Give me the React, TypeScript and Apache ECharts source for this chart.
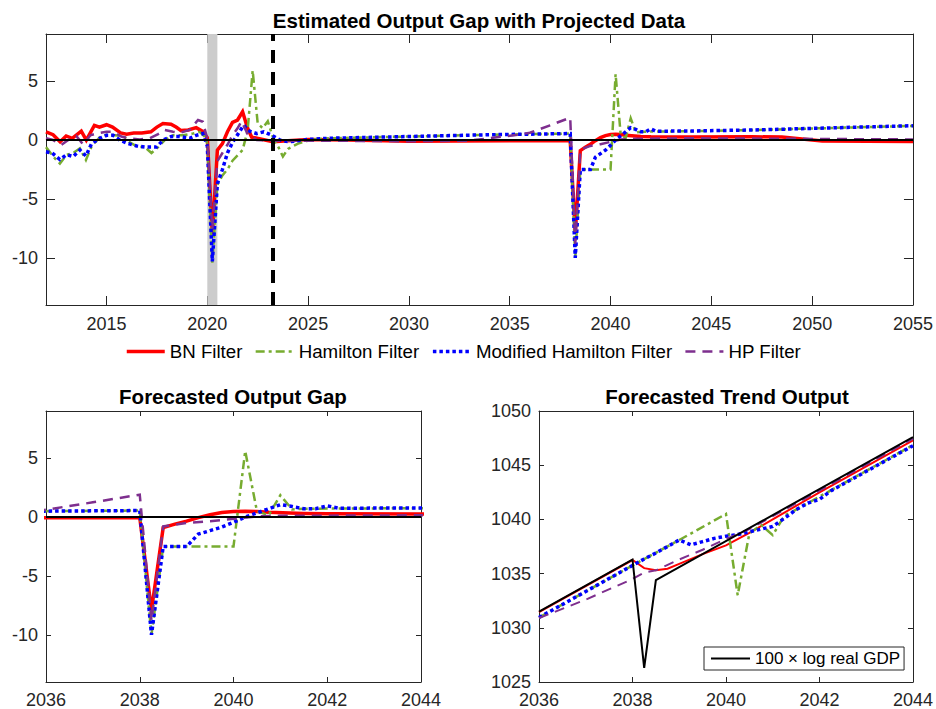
import React, { useEffect, useRef } from "react";
import * as echarts from "echarts";

const FONT = '"Liberation Sans", Arial, Helvetica, sans-serif';
const AX = "#262626";

// ---- tick values ----
const topXTicks = [2015, 2020, 2025, 2030, 2035, 2040, 2045, 2050, 2055];
const gapYTicks = [-10, -5, 0, 5];
const fcXTicks = [2036, 2038, 2040, 2042, 2044];
const trendYTicks = [1025, 1030, 1035, 1040, 1045, 1050];

// ---- output gap series [year, value] ----
const bnGap: [number, number][] = [
  [2012.0, 0.7], [2012.35, 0.45], [2012.7, -0.15], [2013.0, 0.35], [2013.3, 0.15], [2013.75, 0.75],
  [2014.0, 0.0], [2014.4, 1.25], [2014.65, 1.1], [2015.0, 1.3], [2015.3, 1.1], [2015.7, 0.6],
  [2016.0, 0.5], [2016.35, 0.6], [2016.75, 0.6], [2017.2, 0.7], [2017.5, 1.1], [2017.8, 1.4],
  [2018.2, 1.35], [2018.45, 1.1], [2018.7, 0.8], [2019.05, 0.85], [2019.45, 1.05], [2019.75, 0.75],
  [2020.0, 0.2], [2020.25, -8.0], [2020.5, -0.85], [2020.75, -0.3], [2021.0, 0.7], [2021.25, 1.5],
  [2021.5, 1.7], [2021.75, 2.4], [2022.0, 1.0], [2022.2, 0.25], [2022.75, 0.05], [2023.25, -0.15],
  [2024.0, -0.05], [2025.0, 0.05], [2027.0, 0.0], [2030.0, -0.1], [2038.0, -0.05], [2038.25, -7.9],
  [2038.5, -0.9], [2038.75, -0.6], [2039.0, -0.35], [2039.25, -0.05], [2039.5, 0.2], [2039.75, 0.38],
  [2040.0, 0.47], [2040.25, 0.5], [2040.5, 0.47], [2040.75, 0.4], [2041.5, 0.3], [2042.0, 0.27],
  [2044.0, 0.25], [2047.0, 0.28], [2048.5, 0.25], [2049.5, 0.08], [2050.5, -0.08], [2055.0, -0.12],
];

const hamGap: [number, number][] = [
  [2012.0, -0.6], [2012.36, -1.4], [2012.69, -2.0], [2013.02, -1.25], [2013.35, -1.1], [2013.68, -0.7],
  [2013.98, -1.7], [2014.26, -0.55], [2014.67, 0.25], [2015.0, 0.45], [2015.41, 0.4], [2015.83, 0.35],
  [2016.16, -0.2], [2016.57, -0.6], [2016.9, -0.6], [2017.23, -1.1], [2017.56, -0.6], [2017.89, 0.0],
  [2018.3, 0.4], [2018.8, 0.4], [2019.29, 0.55], [2019.62, 0.7], [2019.87, 0.3], [2020.0, -0.3],
  [2020.25, -10.4], [2020.5, -3.8], [2020.75, -3.0], [2021.0, -2.5], [2021.25, -1.75], [2021.5, -1.3],
  [2021.75, -0.85], [2022.0, 0.8], [2022.25, 5.9], [2022.5, 1.4], [2022.75, 1.0], [2023.0, 1.6],
  [2023.25, 0.25], [2023.5, -0.5], [2023.75, -1.4], [2024.0, -0.75], [2024.5, -0.3], [2025.0, -0.05],
  [2025.5, 0.1], [2026.0, 0.15], [2030.0, 0.3], [2034.0, 0.45], [2038.0, 0.55], [2038.25, -10.0],
  [2038.5, -2.5], [2040.0, -2.5], [2040.25, 5.6], [2040.5, 0.5], [2040.75, 0.15], [2041.0, 1.85],
  [2041.25, 0.65], [2041.5, 0.7], [2042.0, 0.72], [2044.0, 0.75], [2047.0, 0.85], [2055.0, 1.2],
];

const modGap: [number, number][] = [
  [2012.0, -1.0], [2012.3, -1.1], [2012.69, -1.65], [2013.02, -1.25], [2013.35, -1.4], [2013.68, -0.85],
  [2013.98, -1.35], [2014.26, -0.3], [2014.67, 0.15], [2015.0, 0.4], [2015.33, 0.4], [2015.66, 0.0],
  [2016.07, -0.3], [2016.49, -0.5], [2016.98, -0.6], [2017.48, -0.6], [2017.81, 0.0], [2018.22, 0.3],
  [2018.63, 0.3], [2019.12, 0.15], [2019.45, 0.4], [2019.78, 0.55], [2020.0, -0.5], [2020.25, -10.3],
  [2020.5, -3.7], [2020.75, -2.5], [2021.0, -1.1], [2021.25, -0.2], [2021.5, 0.45], [2021.8, 1.25],
  [2022.1, 0.75], [2022.45, 0.55], [2022.8, 0.7], [2023.15, 0.45], [2023.6, 0.0], [2024.05, -0.15],
  [2025.0, 0.05], [2026.0, 0.15], [2030.0, 0.3], [2034.0, 0.45], [2038.0, 0.55], [2038.25, -10.0],
  [2038.5, -2.5], [2039.0, -2.5], [2039.25, -1.45], [2039.5, -1.15], [2039.75, -0.85], [2040.0, -0.45],
  [2040.25, 0.0], [2040.5, 0.35], [2040.75, 0.7], [2041.0, 1.05], [2041.25, 0.9], [2041.5, 0.7],
  [2041.75, 0.7], [2042.0, 0.95], [2042.25, 0.75], [2044.0, 0.77], [2047.0, 0.85], [2055.0, 1.22],
];

const hpGap: [number, number][] = [
  [2012.0, 0.15], [2012.36, 0.0], [2012.77, -0.4], [2013.1, 0.0], [2013.5, 0.35], [2013.85, -0.4],
  [2014.2, 0.4], [2014.5, 0.55], [2015.0, 0.7], [2015.33, 0.7], [2015.74, 0.3], [2016.07, 0.15],
  [2016.65, 0.05], [2017.15, 0.15], [2017.56, 0.5], [2017.89, 0.85], [2018.3, 0.7], [2018.63, 0.6],
  [2019.12, 0.85], [2019.54, 1.7], [2019.78, 1.55], [2020.0, 0.1], [2020.25, -7.6], [2020.5, -1.8],
  [2020.75, -1.1], [2021.0, -0.4], [2021.25, 0.4], [2021.5, 1.0], [2021.7, 1.6], [2022.0, 0.5],
  [2022.45, 0.0], [2023.25, -0.05], [2025.0, -0.05], [2030.0, -0.1], [2033.0, -0.05], [2034.6, 0.28],
  [2035.3, 0.42], [2036.0, 0.62], [2037.0, 1.25], [2038.0, 1.9], [2038.25, -8.8], [2038.5, -0.8],
  [2039.0, -0.5], [2039.5, -0.35], [2040.0, -0.15], [2040.5, 0.05], [2041.0, 0.1], [2044.0, 0.15],
  [2055.0, 0.05],
];

// ---- trend output series [year, 100*log level] ----
const gdpLog: [number, number][] = [
  [2036, 1031.5], [2038, 1036.3], [2038.25, 1026.3], [2038.5, 1034.4], [2044, 1047.6],
];
const bnTrend: [number, number][] = [
  [2036, 1031.45], [2038, 1036.25], [2038.25, 1035.5], [2038.5, 1035.3], [2038.75, 1035.45],
  [2039, 1035.9], [2039.5, 1036.8], [2040, 1037.6], [2040.5, 1038.75], [2041, 1040.0],
  [2042, 1042.5], [2044, 1047.3],
];
const hamTrend: [number, number][] = [
  [2036, 1030.95], [2038, 1035.75], [2039, 1038.1], [2040, 1040.5], [2040.25, 1033.0],
  [2040.5, 1038.7], [2040.75, 1039.5], [2041, 1038.55], [2041.25, 1040.35], [2041.5, 1040.9],
  [2042, 1042.1], [2044, 1046.85],
];
const modTrend: [number, number][] = [
  [2036, 1030.95], [2038, 1035.75], [2038.25, 1036.35], [2038.5, 1036.9], [2039, 1038.1],
  [2039.25, 1037.65], [2039.5, 1037.95], [2039.75, 1038.25], [2040, 1038.45], [2040.25, 1038.6],
  [2040.5, 1038.85], [2040.75, 1039.1], [2041, 1039.35], [2041.25, 1040.1], [2041.5, 1040.9],
  [2041.75, 1041.5], [2042, 1041.85], [2042.25, 1042.65], [2044, 1046.8],
];
const hpTrend: [number, number][] = [
  [2036, 1030.9], [2037, 1032.6], [2038, 1034.5], [2038.25, 1035.1], [2038.5, 1035.3],
  [2039, 1036.3], [2039.5, 1037.2], [2040, 1038.2], [2040.5, 1039.1], [2041, 1040.3],
  [2042, 1042.65], [2044, 1047.45],
];

const zeroTop: [number, number][] = [[2012, 0], [2055, 0]];
const zeroFc: [number, number][] = [[2036, 0], [2044, 0]];

const NAMES = ["BN Filter", "Hamilton Filter", "Modified Hamilton Filter", "HP Filter"];
const GDP_NAME = "100 \u00D7 log real GDP";

const RED = "#FF0000";
const GREEN = "#77AC30";
const BLUE = "#0000FF";
const PURPLE = "#7E2F8E";

function ax(grid: number, min: number, max: number, ticks: number[], len: number, label: boolean, position: string, margin: number) {
  return {
    type: "value", gridIndex: grid, min, max, position,
    axisLine: { show: true, onZero: false, lineStyle: { color: AX, width: 1 } },
    axisTick: { show: true, inside: true, length: len, customValues: ticks, lineStyle: { color: AX, width: 1 } },
    axisLabel: {
      show: label, customValues: ticks, formatter: (v: number) => String(v),
      color: AX, fontSize: 18, fontFamily: FONT, margin,
    },
    splitLine: { show: false },
  };
}

// axis index pairs: grid 0 -> 0, grid 1 -> 2, grid 2 -> 4
function ln(name: string, data: any, color: string, width: number, type: any, idx: number, z: number) {
  return {
    type: "line", name, data, xAxisIndex: idx, yAxisIndex: idx, symbol: "none", showSymbol: false,
    lineStyle: { color, width, type, cap: "butt", join: "miter" }, itemStyle: { color },
    z, silent: true, clip: true,
  };
}

const DASHDOT = [9, 4, 3, 4];
const DOT = [3.5, 3];
const DASH = [10, 7];

export default function App() {
  const ref = useRef<HTMLDivElement>(null);
  useEffect(() => {
    if (!ref.current) return;
    const chart = echarts.init(ref.current, undefined, { renderer: "svg" });
    const gapSeries = (idx: number) => [
      ln(NAMES[0], bnGap, RED, 3.5, "solid", idx, 3),
      ln(NAMES[1], hamGap, GREEN, 2.5, DASHDOT, idx, 3),
      ln(NAMES[2], modGap, BLUE, 3.5, DOT, idx, 3),
      ln(NAMES[3], hpGap, PURPLE, 2.5, DASH, idx, 3),
    ];
    const titleFont = `bold 20.5px ${FONT}`;
    const option: any = {
      animation: false,
      backgroundColor: "#fff",
      textStyle: { fontFamily: FONT },
      grid: [
        { left: 46, top: 34, width: 869, height: 271, containLabel: false },
        { left: 46, top: 411, width: 375, height: 271, containLabel: false },
        { left: 539, top: 411, width: 377, height: 271, containLabel: false },
      ],
      xAxis: [
        ax(0, 2012, 2055, topXTicks, 9, true, "bottom", 10),
        ax(0, 2012, 2055, topXTicks, 9, false, "top", 8),
        ax(1, 2036, 2044, fcXTicks, 5, true, "bottom", 9),
        ax(1, 2036, 2044, fcXTicks, 5, false, "top", 8),
        ax(2, 2036, 2044, fcXTicks, 5, true, "bottom", 9),
        ax(2, 2036, 2044, fcXTicks, 5, false, "top", 8),
      ],
      yAxis: [
        ax(0, -14, 9, gapYTicks, 9, true, "left", 8),
        ax(0, -14, 9, gapYTicks, 9, false, "right", 8),
        ax(1, -14, 9, gapYTicks, 5, true, "left", 8),
        ax(1, -14, 9, gapYTicks, 5, false, "right", 8),
        ax(2, 1025, 1050, trendYTicks, 5, true, "left", 8),
        ax(2, 1025, 1050, trendYTicks, 5, false, "right", 8),
      ],
      legend: [
        {
          data: NAMES, left: 125, top: 342, padding: 0, itemWidth: 38, itemHeight: 14, itemGap: 12,
          selectedMode: false, itemStyle: { opacity: 0 }, lineStyle: { width: "inherit" },
          textStyle: { fontSize: 18.7, fontFamily: FONT, color: "#000" },
        },
        {
          data: [GDP_NAME], left: 704, top: 647, padding: [3, 4, 3, 6], itemWidth: 39, itemHeight: 14,
          borderColor: AX, borderWidth: 1, backgroundColor: "#fff", selectedMode: false,
          itemStyle: { opacity: 0 }, lineStyle: { width: "inherit" },
          textStyle: { fontSize: 17, fontFamily: FONT, color: "#000" },
        },
      ],
      graphic: [
        { type: "text", x: 479, y: 20, style: { text: "Estimated Output Gap with Projected Data", textAlign: "center", textVerticalAlign: "middle", font: titleFont, fill: "#000" } },
        { type: "text", x: 233, y: 396, style: { text: "Forecasted Output Gap", textAlign: "center", textVerticalAlign: "middle", font: titleFont, fill: "#000" } },
        { type: "text", x: 727, y: 396, style: { text: "Forecasted Trend Output", textAlign: "center", textVerticalAlign: "middle", font: titleFont, fill: "#000" } },
      ],
      series: [
        {
          type: "line", name: "band", data: [[2012, 0]], xAxisIndex: 0, yAxisIndex: 0, symbol: "none",
          lineStyle: { opacity: 0 }, z: 1, silent: true,
          markArea: { silent: true, itemStyle: { color: "#CCCCCC" }, data: [[{ xAxis: 2020.0 }, { xAxis: 2020.5 }]] },
        },
        ...gapSeries(0),
        {
          ...ln("zeroTop", zeroTop, "#000", 2, "solid", 0, 5),
          markLine: {
            silent: true, symbol: ["none", "none"], label: { show: false },
            lineStyle: { color: "#000", width: 4, type: [13, 9] },
            data: [{ xAxis: 2023.25 }],
          },
        },
        ...gapSeries(2),
        ln("zeroFc", zeroFc, "#000", 2, "solid", 2, 5),
        ln(NAMES[0], bnTrend, RED, 2, "solid", 4, 3),
        ln(NAMES[1], hamTrend, GREEN, 2.5, DASHDOT, 4, 3),
        ln(NAMES[2], modTrend, BLUE, 3.5, DOT, 4, 3),
        ln(NAMES[3], hpTrend, PURPLE, 2, DASH, 4, 3),
        ln(GDP_NAME, gdpLog, "#000", 2, "solid", 4, 4),
      ],
    };
    chart.setOption(option);
    return () => chart.dispose();
  }, []);
  return <div ref={ref} style={{ position: "absolute", left: 0, top: 0, width: 936, height: 709 }} />;
}
